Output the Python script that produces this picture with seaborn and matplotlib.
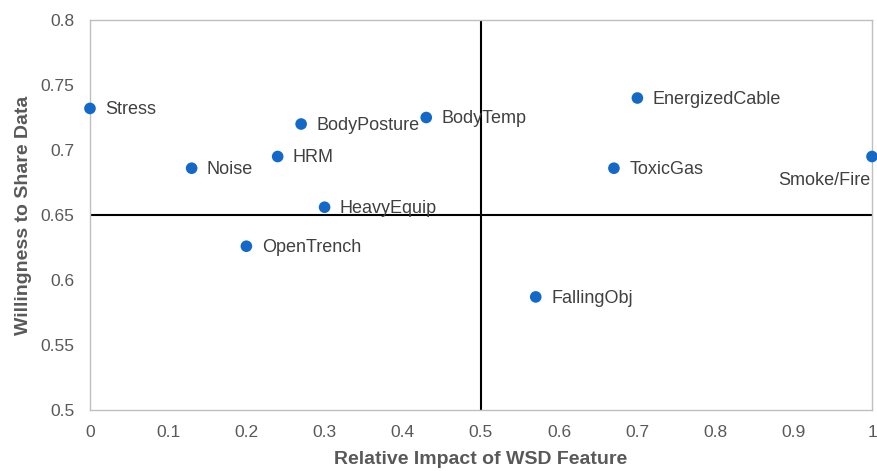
import matplotlib
matplotlib.use("Agg")
import matplotlib.pyplot as plt
import seaborn as sns
import pandas as pd

features = ["Stress", "Noise", "HRM", "BodyPosture", "BodyTemp", "HeavyEquip",
            "OpenTrench", "FallingObj", "ToxicGas", "EnergizedCable", "Smoke/Fire"]
impact = [0.0, 0.13, 0.24, 0.27, 0.43, 0.30, 0.20, 0.57, 0.67, 0.70, 1.0]
willingness = [0.732, 0.686, 0.695, 0.720, 0.725, 0.656, 0.626, 0.587, 0.686, 0.740, 0.695]
x_ticks = [0, 0.1, 0.2, 0.3, 0.4, 0.5, 0.6, 0.7, 0.8, 0.9, 1]
x_tick_labels = ["0", "0.1", "0.2", "0.3", "0.4", "0.5", "0.6", "0.7", "0.8", "0.9", "1"]
y_ticks = [0.5, 0.55, 0.6, 0.65, 0.7, 0.75, 0.8]
y_tick_labels = ["0.5", "0.55", "0.6", "0.65", "0.7", "0.75", "0.8"]

df = pd.DataFrame({"feature": features, "impact": impact, "willingness": willingness})

sns.set_style("white")
plt.rcParams["font.family"] = ["Liberation Sans", "DejaVu Sans"]

fig = plt.figure(figsize=(8.77, 4.71), dpi=100)
ax = fig.add_axes([0.1026, 0.1295, 0.8917, 0.828])

ax.axvline(0.5, color="black", lw=1.5, zorder=1)
ax.axhline(0.65, color="black", lw=1.5, zorder=1)

sns.scatterplot(data=df, x="impact", y="willingness", ax=ax, color="#1469C8",
                s=70, edgecolor="none", zorder=3, clip_on=False)

for f, xv, yv in zip(features, impact, willingness):
    if f == "Smoke/Fire":
        ax.annotate(f, (xv, yv), xytext=(-1, -17), textcoords="offset points",
                    ha="right", va="center", fontsize=13, color="#404040")
    else:
        ax.annotate(f, (xv, yv), xytext=(11, -1), textcoords="offset points",
                    ha="left", va="center", fontsize=13, color="#404040")

ax.set_xlim(0, 1)
ax.set_ylim(0.5, 0.8)
ax.set_xticks(x_ticks)
ax.set_xticklabels(x_tick_labels)
ax.set_yticks(y_ticks)
ax.set_yticklabels(y_tick_labels)
ax.tick_params(axis="x", labelsize=12.5, colors="#595959", length=0, pad=11)
ax.tick_params(axis="y", labelsize=12.5, colors="#595959", length=0, pad=11)

for s in ax.spines.values():
    s.set_color("#BFBFBF")
    s.set_linewidth(1.0)

ax.set_xlabel("Relative Impact of WSD Feature", fontsize=14, fontweight="bold",
              color="#595959", va="center")
ax.xaxis.set_label_coords(0.5, -0.128)
ax.set_ylabel("Willingness to Share Data", fontsize=14, fontweight="bold",
              color="#595959", labelpad=6)

fig.savefig("out.png", dpi=100)
